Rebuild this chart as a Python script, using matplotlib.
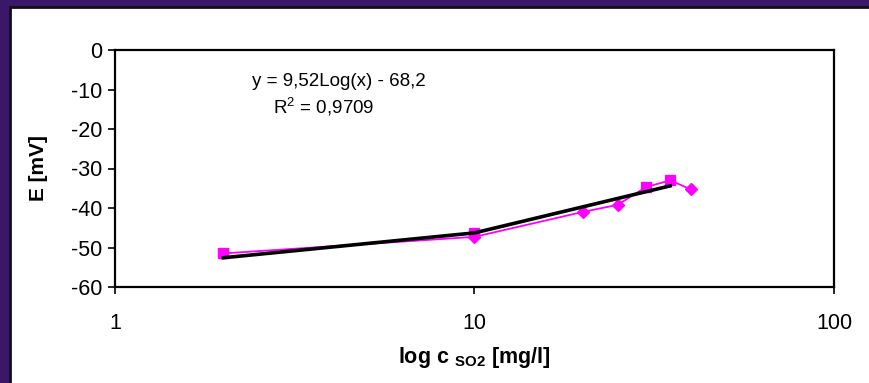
import numpy as np
import matplotlib
matplotlib.use("Agg")
import matplotlib.pyplot as plt
from matplotlib.patches import Rectangle

plt.rcParams['font.family'] = ['Liberation Sans', 'DejaVu Sans']
plt.rcParams['mathtext.fontset'] = 'custom'
plt.rcParams['mathtext.rm'] = 'Liberation Sans'
plt.rcParams['mathtext.bf'] = 'Liberation Sans:bold'

# measured potential vs SO2 concentration
conc = [2, 10, 20, 25, 30, 35, 40]
potential = [-51.5, -47.3, -41.0, -39.2, -34.7, -33.0, -35.3]

# points marked with squares / diamonds
sq_x = [2, 10, 30, 35]
sq_y = [-51.5, -46.3, -34.7, -33.0]
dia_x = [10, 20, 25, 40]
dia_y = [-47.3, -41.0, -39.2, -35.3]

# trendline as drawn (polyline vertices)
trend_x = [2, 10, 35]
trend_y = [-52.6, -46.3, -34.4]

eq_text = "y = 9,52Log(x) - 68,2"
r2_text = "R$^2$ = 0,9709"
y_ticks = [0, -10, -20, -30, -40, -50, -60]
x_ticks = [1, 10, 100]

fig = plt.figure(figsize=(8.69, 3.83), dpi=100)
fig.patch.set_facecolor('#3a1769')

# white panel with dark edge, behind the plot
bg = fig.add_axes([0, 0, 1, 1], zorder=-1)
bg.set_axis_off()
bg.set_xlim(0, 1)
bg.set_ylim(0, 1)
bg.add_patch(Rectangle((10 / 869, -0.05), 1.0, 1 - 7 / 383 + 0.05,
                       facecolor='white', edgecolor='#111111', linewidth=2))

ax = fig.add_axes([115 / 869, 1 - 287 / 383, (834 - 115) / 869, (287 - 50) / 383])
ax.set_facecolor('white')

ax.plot(trend_x, trend_y, color='black', lw=2.6, zorder=4)

ax.plot(conc, potential, color='#ff00ff', lw=1.3, zorder=3)
ax.plot(sq_x, sq_y, ls='none', marker='s', ms=6.5, color='#ff00ff', zorder=3)
ax.plot(dia_x, dia_y, ls='none', marker='D', ms=6, color='#ff00ff', zorder=3)

ax.set_xscale('log')
ax.set_xlim(1, 100)
ax.set_ylim(-60, 0)
ax.set_xticks(x_ticks)
ax.set_xticklabels([str(v) for v in x_ticks])
ax.minorticks_off()
ax.set_yticks(y_ticks)
ax.set_yticklabels([str(v) for v in y_ticks])

for s in ax.spines.values():
    s.set_linewidth(1.6)
    s.set_color('black')
ax.tick_params(direction='out', length=5, width=1.2, labelsize=15.5, colors='black')
ax.tick_params(axis='x', pad=14)
ax.tick_params(axis='y', pad=4)

ax.set_ylabel("E [mV]", fontsize=15, fontweight='bold', labelpad=17)
ax.set_xlabel(r"log c $_{\mathbf{SO2}}$ [mg/l]", fontsize=15.5, fontweight='bold', labelpad=8)

ax.text(0.312, 0.865, eq_text, transform=ax.transAxes, ha='center', va='center', fontsize=13.5)
ax.text(0.29, 0.76, r2_text, transform=ax.transAxes, ha='center', va='center', fontsize=13.5)

fig.savefig("out.png", dpi=100, facecolor=fig.get_facecolor())
